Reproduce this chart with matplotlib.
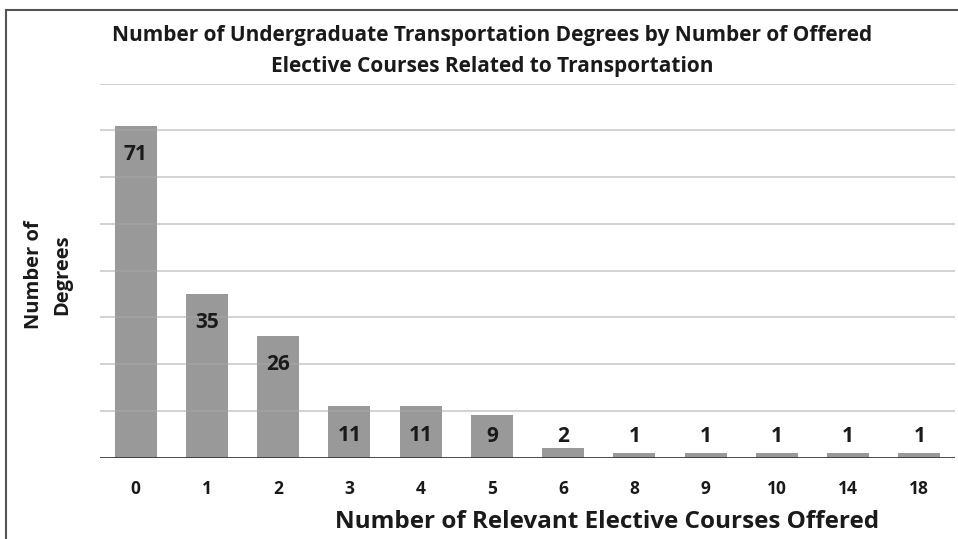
import matplotlib
matplotlib.use('Agg')
import matplotlib.pyplot as plt
from matplotlib.lines import Line2D

plt.rcParams['font.family'] = ['Open Sans', 'DejaVu Sans']

courses = ['0', '1', '2', '3', '4', '5', '6', '8', '9', '10', '14', '18']
degrees = [71, 35, 26, 11, 11, 9, 2, 1, 1, 1, 1, 1]

fig = plt.figure(figsize=(9.58, 5.39), dpi=100)
ax = fig.add_axes([100/958, (539-457.5)/539, 855/958, 374/539])

x = range(len(courses))
ax.bar(x, degrees, width=0.59, color='#999999', zorder=1)

# gridlines sit over the bars, like the original
for g in range(10, 81, 10):
    ax.axhline(g, color='#a8a8a8', lw=1.3, alpha=0.55, zorder=2)
ax.axhline(0, color='#3a3a3a', lw=2, zorder=3)

for i, v in enumerate(degrees):
    ax.text(i, max(v - 6.2, 4.4), str(v), ha='center', va='center',
            fontsize=15, fontweight='bold', color='#1a1a1a', zorder=4)

ax.set_xlim(-0.5, len(courses) - 0.5)
ax.set_ylim(0, 80)
ax.set_xticks(list(x))
ax.set_xticklabels(courses, fontsize=12.5, fontweight='bold', color='#1a1a1a')
ax.tick_params(axis='x', length=0, pad=16)
ax.set_yticks([])
for s in ax.spines.values():
    s.set_visible(False)

fig.text(492/958, 1 - 51/539,
         'Number of Undergraduate Transportation Degrees by Number of Offered\n'
         'Elective Courses Related to Transportation',
         ha='center', va='center', fontsize=15, fontweight='bold',
         color='#1a1a1a', linespacing=1.65)
fig.text(34/958, 1 - 275/539, 'Number of', rotation=90,
         ha='center', va='center', fontsize=14.5, fontweight='bold',
         color='#1a1a1a')
fig.text(62/958, 1 - 275/539, 'Degrees', rotation=90,
         ha='center', va='center', fontsize=14.5, fontweight='bold',
         color='#1a1a1a')
fig.text(607/958, 1 - 522/539, 'Number of Relevant Elective Courses Offered',
         ha='center', va='center', fontsize=17.5, fontweight='bold',
         color='#1a1a1a')

# frame lines at top and left of the image
fig.add_artist(Line2D([6/958, 1], [1 - 10/539, 1 - 10/539],
                      transform=fig.transFigure, color='#555555', lw=1.5))
fig.add_artist(Line2D([6/958, 6/958], [0, 1 - 10/539],
                      transform=fig.transFigure, color='#555555', lw=1.5))

fig.savefig('out.png', dpi=100)
